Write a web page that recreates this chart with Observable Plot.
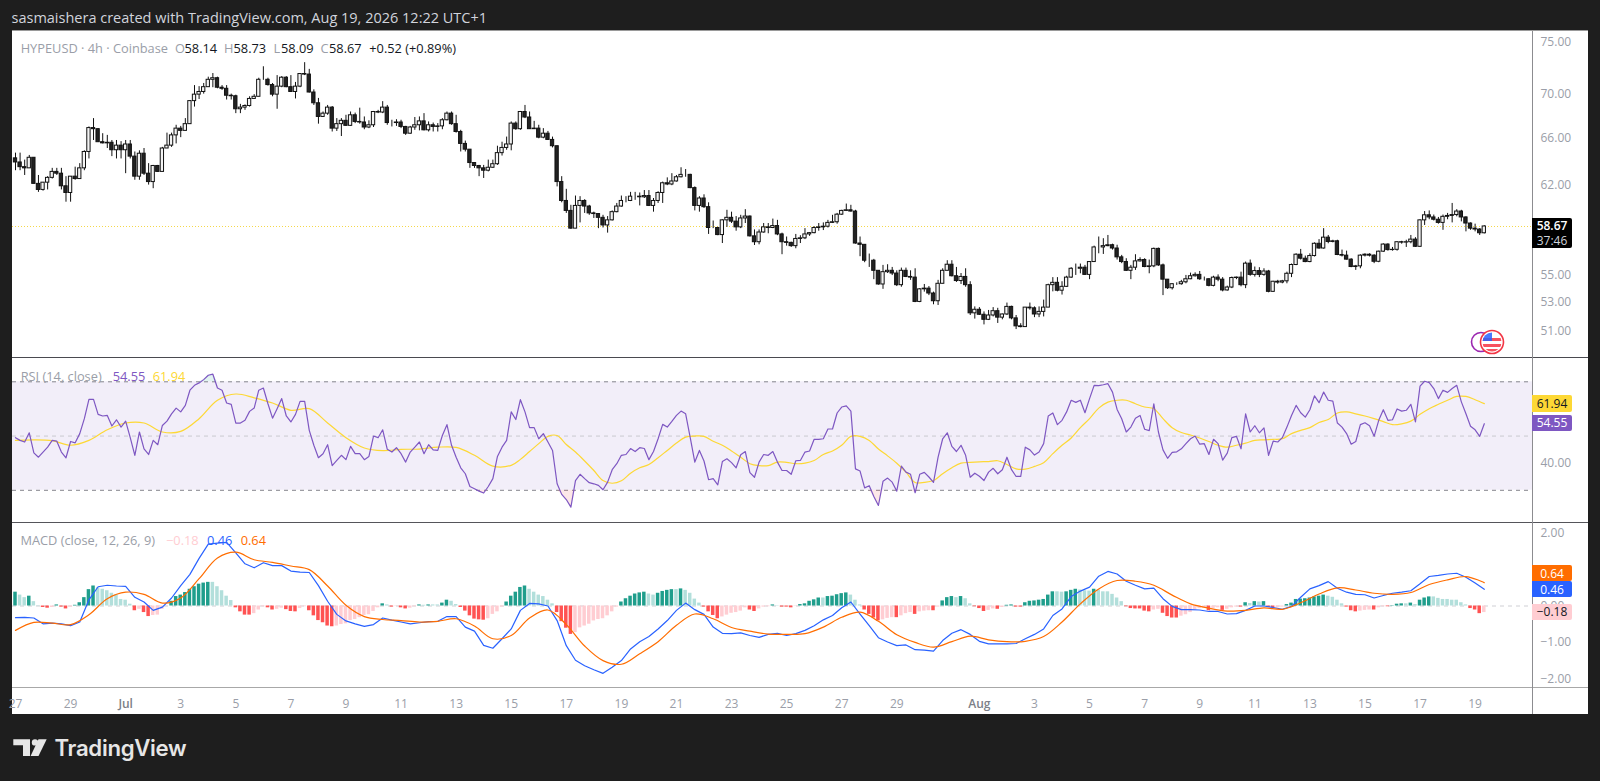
<!DOCTYPE html>
<html><head><meta charset="utf-8">
<script src="https://cdn.jsdelivr.net/npm/d3@7"></script>
<script src="https://cdn.jsdelivr.net/npm/@observablehq/plot@0.6"></script>
<style>
html,body{margin:0;padding:0;background:#1e1e1e;overflow:hidden;width:1600px;height:781px}
body{font-family:"Open Sans",sans-serif;position:relative}
.abs{position:absolute;white-space:nowrap}
svg{position:absolute;overflow:visible}
.box{position:absolute;left:1532px;width:40px;font-size:12px;display:flex;align-items:center;justify-content:center;border-radius:0 2px 2px 0}
</style></head><body>
<div class="abs" id="panel" style="left:12px;top:30px;width:1576px;height:684px;background:#fff"></div>
<div class="abs" id="title" style="left:11.5px;top:8px;font-size:14.5px;line-height:19px;color:#d1d4dc">sasmaishera created with TradingView.com, Aug 19, 2026 12:22 UTC+1</div>
<script>
const openFirst = 64.25;
const closes = [63.9,63.5,63.4,64.3,62.1,61.6,62.2,62.6,63.1,62.95,
61.9,61.35,62.7,62.5,63.4,64.8,66.9,66.8,65.65,65.55,
65.6,64.95,65.35,64.95,65.45,64.4,62.7,64.65,62.95,62.25,
63.6,63.1,65.1,65.35,66.25,66.85,66.65,67.25,69.35,69.95,
70.2,70.65,71.35,71.5,70.6,70.5,69.85,69.8,68.6,68.75,
68.9,69.55,69.75,71.35,71.35,70.85,69.95,70.7,71.55,70.65,
70.2,70.7,71.9,71.85,70.15,69.15,67.9,68.2,68.75,66.85,
67.25,67.55,67.1,68.05,67.45,67.4,66.95,67.15,68.35,68.3,
68.75,67.35,67.35,67.4,67.0,66.4,66.95,67.15,67.5,66.7,
67.15,67.0,67.05,67.6,68.2,67.25,66.55,65.5,65.0,63.85,
63.6,63.4,63.2,63.45,63.75,64.7,65.15,65.45,67.3,66.8,
68.35,67.85,66.8,66.85,66.05,66.4,65.85,65.3,62.25,60.7,
59.9,58.5,60.3,60.7,60.25,59.7,59.65,59.35,58.75,59.15,
59.8,60.25,60.7,60.7,61.05,61.05,61.0,61.1,60.3,60.7,
61.35,62.15,62.05,62.3,62.65,62.85,62.85,61.75,60.3,60.9,
60.2,58.55,58.55,58.0,59.15,59.35,59.05,58.6,59.3,59.45,
57.9,57.45,58.2,58.6,58.55,58.7,58.05,57.45,57.4,57.15,
57.7,57.75,58.05,58.15,58.55,58.6,58.65,58.95,59.0,59.6,
59.9,59.95,59.85,57.35,57.25,56.05,56.05,55.3,54.3,55.2,
55.3,55.1,54.25,55.3,54.85,54.8,53.05,53.95,54.0,53.65,
53.1,54.35,55.3,55.75,54.9,54.55,54.85,54.25,52.25,52.5,
52.15,51.8,52.1,52.4,51.95,52.17,52.7,51.9,51.35,51.3,
52.65,52.6,52.17,52.35,52.65,54.25,54.42,53.85,54.13,54.8,
55.45,55.45,55.53,55.0,55.95,57.05,57.05,57.15,57.22,56.97,
56.3,55.95,55.3,55.53,56.0,56.1,55.58,55.63,56.94,55.7,
54.65,54.03,54.32,54.32,54.46,54.68,54.9,55.0,54.68,54.68,
54.2,54.8,54.65,53.87,54.08,54.77,54.8,54.25,55.83,55.0,
55.28,55.0,55.25,53.77,54.5,54.44,54.53,55.08,55.73,56.5,
56.2,55.95,56.4,57.33,56.97,57.8,57.47,57.52,56.48,56.43,
56.13,55.58,55.63,56.43,56.5,56.43,55.97,56.73,57.27,56.85,
56.87,57.45,57.42,57.45,57.65,57.1,59.15,59.55,59.38,59.2,
58.95,59.43,59.5,59.57,59.85,59.38,58.9,58.5,58.43,58.14,58.67];
const highs = [64.7,64.7,64.1,64.5,64.3,62.8,62.2,62.7,63.4,63.4,
63.4,62.7,62.7,63.5,63.8,64.9,67.0,67.75,66.85,66.4,
66.25,65.8,65.8,65.7,65.8,65.8,64.8,64.9,65.1,63.8,
63.65,63.65,65.2,66.45,66.45,67.15,67.05,67.75,69.4,70.8,
70.7,71.0,71.6,71.95,71.6,70.8,70.8,70.0,69.9,69.05,
69.0,69.75,69.95,71.5,72.6,71.5,71.0,71.75,71.65,71.65,
71.75,71.1,71.95,73.0,72.35,70.4,69.6,68.35,68.95,68.85,
67.75,67.75,68.05,68.35,68.25,68.7,67.9,67.55,68.4,68.5,
69.3,68.95,67.6,67.65,67.6,67.05,67.05,67.85,67.9,68.2,
67.45,67.35,67.3,67.75,68.35,68.35,68.05,66.7,65.75,65.0,
63.85,63.65,63.65,64.1,64.1,65.3,65.65,66.1,67.45,67.45,
68.4,68.95,68.35,67.5,67.15,66.85,66.6,66.1,65.3,62.7,
61.65,60.35,61.1,61.05,60.8,60.35,59.8,59.65,59.55,59.45,
59.9,60.5,61.1,61.05,61.4,61.4,61.35,61.55,61.55,60.9,
61.45,62.25,62.6,62.95,62.8,63.45,63.3,62.9,61.85,61.05,
61.2,60.55,59.1,58.6,59.2,59.95,59.8,59.45,59.55,60.0,
59.5,58.4,58.4,58.9,58.9,59.25,59.15,58.15,57.85,57.45,
58.05,57.95,58.5,58.2,58.65,58.9,58.95,59.15,59.55,59.7,
59.95,60.45,60.35,59.95,57.85,57.25,56.55,56.15,55.3,55.7,
55.75,55.55,55.3,55.5,55.5,55.3,55.45,54.0,54.3,54.15,
53.75,54.6,55.45,56.05,56.05,55.55,55.1,55.45,54.5,52.7,
52.65,52.35,52.45,52.65,52.6,52.2,52.97,52.75,52.1,51.53,
52.65,52.97,52.7,52.7,53.18,54.32,54.8,54.8,54.5,54.9,
55.53,55.8,55.8,55.7,55.95,57.15,57.85,57.72,57.97,57.3,
57.22,56.45,56.2,55.7,56.5,56.27,56.2,56.1,57.0,57.0,
55.8,54.65,54.35,54.42,54.6,54.96,55.13,55.15,55.25,54.84,
54.72,54.9,55.0,54.8,54.18,54.84,54.84,55.2,55.95,56.1,
55.58,55.53,55.45,55.33,54.53,54.6,54.6,55.2,55.8,56.57,
56.9,56.4,56.57,57.4,57.65,58.5,57.97,57.6,57.6,56.85,
56.77,56.2,55.7,56.5,56.57,56.57,56.5,56.77,57.33,57.33,
57.05,57.47,57.52,57.6,57.97,57.8,59.2,59.85,59.9,59.57,
59.38,59.57,59.7,60.5,60.0,59.95,59.43,58.95,58.85,58.5,58.73];
const lows = [63.2,63.2,62.8,63.4,62.1,61.4,61.5,61.6,62.5,62.8,
61.6,60.6,60.6,62.4,62.5,63.2,64.2,65.8,65.65,65.5,
65.1,64.4,64.2,64.2,62.95,64.2,62.4,62.4,62.8,62.0,
61.7,63.05,63.1,65.1,65.2,65.5,66.05,66.65,67.25,68.8,
69.5,70.0,70.65,70.6,70.5,70.35,69.45,69.45,68.2,68.2,
68.5,68.8,69.55,69.75,71.3,70.75,69.75,68.6,70.6,70.6,
70.2,69.55,70.6,71.75,70.1,68.95,67.25,67.85,68.05,66.55,
66.6,66.15,67.05,67.05,67.3,67.25,66.75,66.85,66.95,68.2,
68.2,67.15,67.0,67.05,66.85,66.25,66.35,66.7,66.65,66.65,
66.55,66.55,66.55,66.75,67.55,67.15,66.45,64.8,64.8,63.4,
63.4,62.7,62.55,63.1,63.4,63.65,64.45,64.95,64.9,66.7,
66.7,67.75,66.8,66.8,65.95,65.95,65.8,65.15,61.85,60.55,
59.7,58.45,58.5,58.95,59.7,59.55,59.3,58.5,58.55,58.15,
59.1,59.75,60.2,60.55,60.65,60.75,60.3,60.9,60.25,59.8,
60.5,60.5,61.95,61.95,62.25,62.6,62.65,61.7,59.9,59.8,
60.1,58.05,58.5,57.95,57.35,58.6,58.9,58.3,58.5,58.9,
57.85,57.2,57.25,58.15,58.1,58.5,57.95,56.5,57.15,57.05,
56.95,57.35,57.65,57.9,58.1,58.3,58.35,58.55,58.9,58.85,
59.55,59.85,59.8,57.3,56.35,55.9,55.55,54.65,54.25,53.95,
55.1,54.95,54.15,54.1,54.8,54.6,53.0,53.0,53.75,53.5,
52.85,52.8,54.35,55.3,54.85,54.45,54.3,54.1,52.1,51.85,
52.1,51.45,51.75,52.0,51.55,51.8,52.1,51.8,51.13,51.25,
51.3,52.47,51.95,51.95,52.0,52.65,53.77,53.77,53.54,54.08,
54.75,54.96,55.08,54.96,54.65,55.95,56.57,56.52,57.1,56.85,
56.1,55.83,55.25,54.65,55.33,55.95,55.53,55.08,55.53,55.63,
53.5,53.94,53.9,54.23,54.25,54.35,54.65,54.84,54.6,54.55,
54.13,54.13,54.5,53.77,53.82,54.0,54.65,54.13,54.0,54.9,
54.84,54.8,54.9,53.7,53.73,54.32,54.35,54.35,54.8,55.68,
56.1,55.9,55.9,56.33,56.92,56.92,57.33,57.4,56.43,56.33,
56.1,55.53,55.33,55.45,56.33,56.33,55.83,55.9,56.68,56.77,
56.77,56.77,57.3,57.05,57.33,57.05,57.05,58.75,59.2,59.1,
58.85,58.37,59.2,58.95,59.43,59.03,58.25,58.37,58.25,57.97,58.09];
const rsi = [49.4,48.4,47.8,51.2,43.8,42.2,44.1,45.9,48.4,48.1,
44.1,42.0,48.0,47.5,50.9,56.4,63.5,63.5,58.0,57.4,
57.6,53.7,56.0,53.3,55.5,49.4,42.9,51.5,45.3,43.2,
48.4,46.8,53.9,55.5,58.2,60.3,58.9,61.3,66.9,68.7,
69.6,70.8,72.4,72.8,67.7,66.9,62.2,61.7,54.8,54.8,
55.8,59.1,60.3,66.9,67.7,61.9,56.6,60.1,63.8,57.4,
55.2,58.0,62.8,62.8,52.1,46.6,42.0,43.5,46.8,39.1,
41.0,42.9,41.3,46.2,43.5,43.5,41.3,42.5,50.0,49.4,
52.3,45.1,44.1,45.7,43.5,40.4,44.1,45.9,47.8,43.5,
46.8,44.9,44.7,50.2,54.2,46.6,42.2,38.3,36.1,31.4,
30.6,29.7,29.0,31.4,34.3,42.5,45.9,48.4,58.9,56.1,
63.4,58.9,53.1,53.1,49.0,50.9,47.8,44.7,32.4,28.5,
26.6,23.8,33.6,35.9,34.3,32.8,32.4,31.8,30.2,33.0,
37.6,39.8,42.9,43.2,45.4,44.3,45.7,45.4,41.3,44.3,
49.0,54.3,53.3,55.4,57.6,59.2,58.2,49.4,40.4,44.7,
40.8,33.9,34.3,32.0,40.6,41.6,40.2,38.3,43.1,44.3,
36.5,34.8,40.4,43.2,42.9,44.3,40.4,37.3,37.3,35.9,
40.9,41.0,44.1,44.5,48.8,48.8,49.0,52.6,52.6,58.5,
60.7,61.1,59.2,37.9,37.1,30.9,31.7,27.7,24.4,33.3,
34.5,33.0,29.7,38.9,36.7,35.9,29.1,35.9,36.6,34.9,
32.9,42.2,49.0,51.2,46.2,44.3,46.6,42.9,34.8,36.3,
35.2,33.6,36.7,38.1,36.1,37.6,42.2,37.6,35.1,35.1,
45.9,44.9,43.0,44.1,47.2,57.4,58.5,54.2,55.8,58.9,
63.2,62.4,63.2,58.6,63.8,68.7,68.6,68.9,69.3,66.2,
59.8,56.4,51.5,53.3,56.6,57.6,52.5,52.0,61.9,51.5,
44.9,41.8,44.0,44.2,45.3,47.2,49.0,50.0,47.0,47.2,
43.2,48.8,47.2,41.1,43.7,49.4,49.9,45.3,58.2,51.5,
53.8,51.2,53.0,42.9,48.1,47.8,49.4,53.3,57.6,61.3,
58.6,57.0,59.7,64.8,62.3,66.2,63.2,62.9,54.8,53.3,
50.9,47.0,48.0,54.2,54.9,53.8,49.9,55.8,59.7,55.8,
56.0,60.0,59.2,59.5,61.7,55.2,68.4,70.2,69.7,67.5,
63.8,66.9,66.1,67.5,68.7,62.6,58.2,53.6,52.3,49.9,54.55];
const rsiMaIdx = [...d3.range(0,110,4), ...d3.range(110,321,2)];
const rsiMa = [48.4,48.6,48.3,46.6,48.4,52.3,54.8,54.8,51.5,51.7,56.4,63.2,65.5,64.1,62.2,59.5,60.1,54.8,49.4,45.6,44.6,45.1,45.2,45.9,45.8,42.9,38.9,39.2,
41.4,44.3,47.2,49.9,50.2,46.9,44.1,40.8,37.3,33.6,
32.6,33.5,36.3,38.3,39.5,42.0,44.7,47.4,49.6,50.0,
49.9,48.1,46.6,44.5,42.2,39.8,39.1,39.1,40.4,40.3,
39.8,40.0,41.0,43.2,44.5,46.6,49.9,49.9,48.4,45.2,
42.7,40.0,36.7,32.9,32.9,33.6,36.1,38.3,40.0,40.3,
40.5,40.6,40.9,39.5,37.9,37.8,38.8,40.2,43.5,46.6,
49.3,53.1,56.4,60.3,62.5,63.2,63.2,61.9,60.7,60.1,
56.4,53.1,51.3,50.4,49.3,48.0,46.6,45.9,46.6,47.4,
48.4,48.6,48.8,49.0,50.9,52.1,53.1,55.0,56.1,58.5,
58.9,58.2,57.4,56.4,55.3,54.2,54.5,55.5,58.0,60.1,
61.7,63.2,64.6,64.6,63.4,61.94];
const macdIdx = d3.range(0,321,2);
const macd = [-.32,-.31,-.33,-.49,-.47,-.49,-.54,-.44,.17,.53,
.57,.55,.54,.24,.11,-.12,-.03,.22,.56,.87,
1.31,1.70,1.73,1.75,1.46,1.16,1.05,1.19,1.11,1.11,
.96,.93,.92,.56,.13,-.23,-.41,-.49,-.56,-.51,
-.33,-.39,-.44,-.49,-.46,-.43,-.42,-.29,-.29,-.58,
-.69,-1.08,-1.16,-.9,-.63,-.12,.07,.06,0,-.4,
-1.09,-1.49,-1.64,-1.75,-1.85,-1.68,-1.5,-1.18,-.98,-.84,
-.63,-.4,-.12,.08,-.1,-.23,-.58,-.75,-.76,-.74,
-.81,-.86,-.78,-.75,-.81,-.76,-.67,-.54,-.38,-.26,
-.05,.11,-.22,-.54,-.87,-.99,-1.09,-1.07,-1.2,-1.21,
-1.24,-.95,-.75,-.65,-.78,-.97,-1.04,-1.04,-1.04,-1.03,
-.9,-.78,-.63,-.26,-.08,.26,.41,.52,.82,.95,
.88,.68,.57,.47,.49,.2,-.01,-.1,-.1,-.11,
-.15,-.15,-.22,-.21,-.12,0,0,-.04,-.09,-.01,
.24,.47,.56,.67,.49,.38,.32,.31,.22,.29,
.35,.38,.42,.61,.81,.84,.88,.9,.79,.63,.46];
const signalIdx = d3.range(0,321,4);
const signal = [-.67,-.45,-.47,-.51,-.24,.2,.38,.32,.08,.22,
.75,1.32,1.48,1.27,1.2,1.1,1.0,.55,.02,-.29,
-.37,-.4,-.44,-.42,-.35,-.55,-.9,-.81,-.33,-.11,
-.51,-1.1,-1.5,-1.6,-1.31,-.98,-.53,-.22,-.35,-.59,
-.69,-.77,-.78,-.76,-.58,-.31,-.17,-.42,-.79,-1.0,
-1.13,-.98,-.83,-.93,-.98,-.97,-.84,-.44,.06,.47,
.7,.68,.57,.3,.06,-.06,-.14,-.12,-.05,-.09,
.09,.33,.5,.44,.35,.32,.37,.59,.72,.81,.64];
const hist = [.38,.30,.23,.27,.12,.01,-.04,-.06,-.04,.03,
-.03,-.08,-.03,.02,.09,.23,.45,.55,.50,.46,
.42,.35,.31,.18,.16,.05,-.13,-.09,-.18,-.29,
-.26,-.25,-.09,-.01,.13,.26,.30,.37,.46,.53,
.60,.63,.65,.65,.53,.42,.27,.15,-.05,-.16,
-.25,-.25,-.21,-.11,-.02,-.05,-.11,-.09,-.06,-.10,
-.15,-.16,-.07,-.02,-.13,-.27,-.40,-.46,-.55,-.57,
-.55,-.51,-.49,-.40,-.37,-.32,-.26,-.24,-.15,-.05,
.06,.03,-.03,-.01,-.05,-.08,-.06,-.02,.03,.02,
.03,.03,.03,.08,.16,.13,.04,-.04,-.14,-.27,
-.36,-.38,-.39,-.35,-.23,-.16,-.03,.11,.27,.38,
.51,.55,.46,.38,.30,.26,.16,.06,-.18,-.43,
-.61,-.78,-.73,-.60,-.55,-.50,-.41,-.37,-.35,-.27,
-.16,-.03,.11,.20,.27,.33,.36,.38,.33,.30,
.35,.40,.43,.45,.45,.47,.43,.35,.19,.08,
-.03,-.16,-.26,-.35,-.30,-.25,-.20,-.18,-.14,-.05,
-.11,-.15,-.08,-.03,-.02,.03,.01,-.03,-.03,-.05,
-.01,.04,.06,.13,.17,.22,.22,.26,.27,.31,
.34,.36,.30,.16,.03,-.11,-.23,-.33,-.41,-.38,
-.34,-.32,-.32,-.27,-.21,-.18,-.23,-.16,-.14,-.13,
-.13,-.03,.14,.23,.26,.23,.26,.20,.06,-.02,
-.07,-.15,-.12,-.08,-.09,-.04,.02,.03,-.03,-.03,
.09,.13,.14,.16,.18,.30,.39,.39,.38,.39,
.43,.46,.44,.42,.41,.46,.44,.39,.39,.32,
.22,.12,-.02,-.07,-.08,-.08,-.14,-.16,-.11,-.09,
-.20,-.29,-.33,-.33,-.28,-.24,-.18,-.11,-.07,-.06,
-.13,-.07,-.05,-.12,-.09,-.05,-.03,-.03,.09,.07,
.12,.11,.12,-.04,-.06,-.05,-.03,.04,.08,.18,
.19,.20,.22,.25,.27,.30,.27,.24,.16,.06,
-.03,-.13,-.16,-.14,-.12,-.11,-.11,-.05,-.02,-.02,
.01,.05,.06,.06,.08,.04,.16,.22,.25,.25,
.21,.18,.18,.16,.16,.09,.03,-.07,-.11,-.21,-.18];
const tickDays = [0,2,4,6,8,10,12,14,16,18,20,22,24,26,28,30,32,35,37,39,41,43,45,47,49,51,53];
const tickLabels = ["27","29","Jul","3","5","7","9","11","13","15","17","19","21","23","25","27","29","Aug","3","5","7","9","11","13","15","17","19"];
const priceTicks = [51,53,55,62,66,70,75];
const rsiBands = [70,50,30];
const rsiTicks = [40];
const macdTicks = [2,0,-1,-2];
const lastClose = 58.67, lastRsi = 54.55, lastRsiMa = 61.94, lastMacd = 0.46, lastSignal = 0.64, lastHist = -0.18;

const FONT = '"Open Sans",sans-serif';
const W = 1576, MR = 56, AX = "#9a9ea8";
const xDomain = [(12-15)/4.59, (1532-15)/4.59];
const idx = d3.range(closes.length);
const opens = idx.map(i => i ? closes[i-1] : openFirst);
const base = {width:W, marginLeft:0, marginRight:MR, marginTop:0, marginBottom:0,
  x:{domain:xDomain, axis:null}, style:{background:"transparent", fontFamily:FONT, overflow:"visible"}};
const fmt = d => d.toFixed(2).replace("-", "\u2212");
const yAxis = ticks => Plot.text(ticks, {x:()=>xDomain[1], y:d=>d, text:fmt, textAnchor:"start", dx:8, fill:AX, fontSize:12});
function place(p, left, top){p.style.left=left+"px";p.style.top=top+"px";document.body.appendChild(p);return p;}

const pricePlot = Plot.plot({...base, height:327,
  y:{type:"log", domain:[49.26,76.2], axis:null},
  marks:[
    Plot.ruleY([lastClose], {stroke:"#f5d84a", strokeDasharray:"1,2", strokeWidth:1.1}),
    Plot.ruleX(idx, {x:i=>i, y1:i=>lows[i], y2:i=>highs[i], stroke:"#111", strokeWidth:1}),
    Plot.rect(idx, {x1:i=>i-.36, x2:i=>i+.36, y1:i=>opens[i], y2:i=>closes[i],
      fill:i=>closes[i]>=opens[i]?"#f4f4f4":"#222", stroke:"#111", strokeWidth:1}),
    yAxis(priceTicks)
  ]});
place(pricePlot,12,30);

const rsiPlot = Plot.plot({...base, height:164,
  y:{domain:[18.13,78.59], axis:null},
  marks:[
    Plot.rect([0],{x1:xDomain[0],x2:xDomain[1],y1:30,y2:70,fill:"#7e57c2",fillOpacity:.1}),
    Plot.ruleY(rsiBands, {stroke:d=>d===50?"#c9c9cf":"#85858c", strokeDasharray:"4,4", strokeWidth:1}),
    Plot.areaY(idx,{x:i=>i,y1:30,y2:i=>Math.min(rsi[i],30),fill:"#f23645",fillOpacity:.12}),
    Plot.areaY(idx,{x:i=>i,y1:70,y2:i=>Math.max(rsi[i],70),fill:"#089981",fillOpacity:.12}),
    Plot.line(rsiMaIdx,{x:i=>i,y:(i,k)=>rsiMa[k],stroke:"#fdd835",strokeWidth:1.2,curve:"catmull-rom"}),
    Plot.line(idx,{x:i=>i,y:i=>rsi[i],stroke:"#7e57c2",strokeWidth:1.2}),
    yAxis(rsiTicks)
  ]});
place(rsiPlot,12,358);

const histColor = i => {const up=i===0||hist[i]>hist[i-1];return hist[i]>=0?(up?"#1f9e8c":"#b2dfdb"):(up?"#ffcdd2":"#ff5252");};
const tickData = tickDays.map((d,k)=>({x:d*6,label:tickLabels[k]}));
const macdPlot = Plot.plot({...base, height:191, marginBottom:27,
  y:{domain:[-2.239,2.267], axis:null},
  marks:[
    Plot.ruleY([0],{stroke:"#cfcfd4",strokeDasharray:"4,4"}),
    Plot.rect(idx,{x1:i=>i-.38,x2:i=>i+.38,y1:0,y2:i=>hist[i],fill:histColor}),
    Plot.line(macdIdx,{x:i=>i,y:(i,k)=>macd[k],stroke:"#2962ff",strokeWidth:1.2}),
    Plot.line(signalIdx,{x:i=>i,y:(i,k)=>signal[k],stroke:"#ff6d00",strokeWidth:1.2,curve:"catmull-rom"}),
    yAxis(macdTicks),
    Plot.text(tickData.filter(d=>!isNaN(+d.label)),{x:"x",text:"label",frameAnchor:"bottom",dy:20,fill:AX,fontSize:12}),
    Plot.text(tickData.filter(d=>isNaN(+d.label)),{x:"x",text:"label",frameAnchor:"bottom",dy:20,fill:"#7c7f88",fontSize:12,fontWeight:600})
  ]});
place(macdPlot,12,523);

function line(css){const d=document.createElement("div");d.className="abs";d.style.cssText+=css;document.body.appendChild(d);}
line("left:12px;top:357px;width:1576px;height:1px;background:#4a4a50");
line("left:12px;top:522px;width:1576px;height:1px;background:#55555a");
line("left:12px;top:687px;width:1576px;height:1px;background:#a8a8a8");
line("left:1532px;top:30px;width:1px;height:684px;background:#8c8c90");
line("left:12px;top:30px;width:1576px;height:1px;background:#9a9a9a");

function legend(top, parts){parts.forEach(([left,txt,color])=>{const s=document.createElement("div");s.className="abs";
  s.textContent=txt;s.style.cssText+=`left:${left}px;top:${top-9}px;line-height:18px;font-size:12.8px;color:${color}`;document.body.appendChild(s);});}
const G="#9a9ea8", K="#131722";
const f2=v=>v.toFixed(2).replace("-","\u2212");
legend(47.5,[[20.7,"HYPEUSD \u00b7 4h \u00b7 Coinbase",G],[175,"O",G],[184.5,"58.14",K],[224,"H",G],[233.5,"58.73",K],[273.5,"L",G],[281,"58.09",K],[320.5,"C",G],[329,f2(lastClose),K],[369.3,"+0.52 (+0.89%)",K]]);
legend(375.5,[[20.7,"RSI (14, close)",G],[112.7,f2(lastRsi),"#7e57c2"],[152.7,f2(lastRsiMa),"#fdd835"]]);
legend(540,[[20.4,"MACD (close, 12, 26, 9)",G],[166,f2(lastHist),"#ffcdd2"],[207,f2(lastMacd),"#2962ff"],[240.7,f2(lastSignal),"#ff6d00"]]);

function box(top,h,bg,color,html){const b=document.createElement("div");b.className="box";b.innerHTML=html;
  b.style.cssText+=`top:${top}px;height:${h}px;background:${bg};color:${color}`;document.body.appendChild(b);}
const yP=pricePlot.scale("y").apply(lastClose)+30;
box(yP-8,30,"#000","#fff",`<div style="text-align:center;line-height:15px"><b style="font-weight:600">${f2(lastClose)}</b><br><span style="color:#d1d4dc">37:46</span></div>`);
const yR=rsiPlot.scale("y");
box(yR.apply(lastRsiMa)+358-8,16.5,"#fdd835","#131722",f2(lastRsiMa));
box(yR.apply(lastRsi)+358-8.5,16.5,"#7e57c2","#fff",f2(lastRsi));
const yM=macdPlot.scale("y");
box(yM.apply(lastHist)+523-8.5,16.5,"#ffcdd2","#131722",f2(lastHist));
box(yM.apply(lastMacd)+523-7.3,15.7,"#2962ff","#fff",f2(lastMacd));
box(yM.apply(lastMacd)+523-24,16.7,"#ff6d00","#fff",f2(lastSignal));

// session icons and brand
const deco=document.createElement("div");deco.innerHTML=`<svg style="left:0;top:0" width="1600" height="781" xmlns="http://www.w3.org/2000/svg">
<circle cx="1481" cy="342" r="9.5" fill="#fff" stroke="#9c27b0" stroke-width="1.6"/>
<clipPath id="fl"><circle cx="1492" cy="342" r="9.6"/></clipPath>
<circle cx="1492" cy="342" r="11.5" fill="#fff" stroke="#f23645" stroke-width="1.6"/>
<g clip-path="url(#fl)"><rect x="1482" y="332" width="20" height="20" fill="#fff"/>
<rect x="1482" y="338" width="20" height="3" fill="#f7525f"/><rect x="1482" y="344" width="20" height="3" fill="#f7525f"/><rect x="1482" y="349" width="20" height="3" fill="#f7525f"/>
<rect x="1482" y="332" width="10" height="9" fill="#2962ff" opacity=".85"/></g>
<g fill="#e6e6e6"><path d="M13.3 739.3H30V756H23V745.2H13.3Z"/><circle cx="35" cy="742.4" r="3.2"/><path d="M38.5 739.3H46.7L38.5 756H30.6Z"/></g>
<text x="54.5" y="755.5" fill="#e6e6e6" font-family="Inter,sans-serif" font-weight="600" font-size="22.2" letter-spacing="-.3">TradingView</text>
</svg>`;document.body.appendChild(deco);
</script></body></html>
